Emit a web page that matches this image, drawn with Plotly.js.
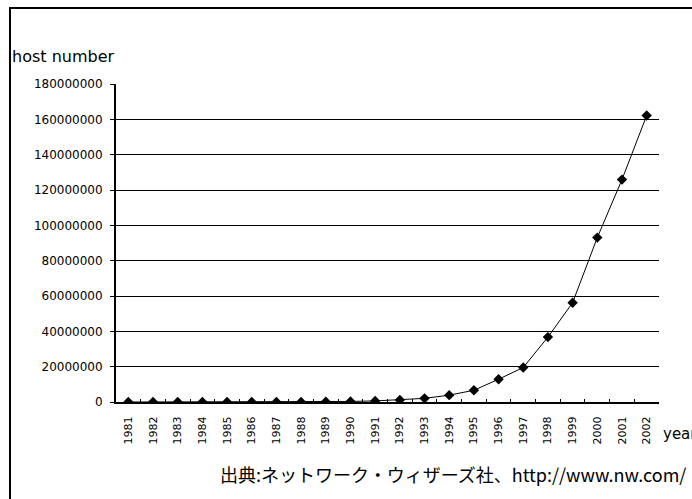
<!DOCTYPE html>
<html>
<head>
<meta charset="utf-8">
<script src="https://cdn.plot.ly/plotly-2.35.2.min.js"></script>
<style>
html,body{margin:0;padding:0;background:#fff;}
#wrap{position:relative;width:692px;height:499px;overflow:hidden;}
#chart{position:absolute;left:0;top:0;width:692px;height:499px;}
#frame{position:absolute;left:9px;top:7px;width:800px;height:700px;border-left:2px solid #000;border-top:2px solid #000;pointer-events:none;}
</style>
</head>
<body>
<div id="wrap"><div id="chart"></div><div id="frame"></div></div>
<script>
const years = ["1981","1982","1983","1984","1985","1986","1987","1988","1989","1990","1991",
  "1992","1993","1994","1995","1996","1997","1998","1999","2000","2001","2002"];
const hosts = [213, 235, 562, 1024, 1961, 5089, 28174, 56000, 159000, 313000, 617000,
  1136000, 2056000, 3864000, 6642000, 12881000, 19540000, 36739000, 56218000, 93047785, 125888197, 162128493];
const yTicks = [0, 20000000, 40000000, 60000000, 80000000, 100000000, 120000000, 140000000, 160000000, 180000000];
const gridVals = [20000000, 40000000, 60000000, 80000000, 100000000, 120000000, 140000000, 160000000];
const yTitle = "host number";
const xTitle = "year";
const source = "出典:ネットワーク・ウィザーズ社、http://www.nw.com/";

const trace = {
  x: years, y: hosts, type: 'scatter', mode: 'lines+markers',
  line: {color: '#000', width: 1},
  marker: {symbol: 'diamond', size: 8, color: '#000'},
  hoverinfo: 'skip'
};
const gridTrace = {x: [years[0]], y: [0], yaxis: 'y2', type: 'scatter', mode: 'none', hoverinfo: 'skip', showlegend: false};

const layout = {
  width: 692, height: 499,
  margin: {l: 116, r: 33, t: 84, b: 97},
  paper_bgcolor: '#fff', plot_bgcolor: '#fff',
  showlegend: false,
  font: {family: 'DejaVu Sans', color: '#000'},
  xaxis: {
    type: 'category', range: [-0.5, 21.5],
    showline: true, linecolor: '#000', linewidth: 2,
    showgrid: false, zeroline: false,
    ticks: 'inside', ticklen: 3, tickcolor: '#000', tickwidth: 1, tickson: 'boundaries',
    tickangle: -90, tickfont: {family: 'DejaVu Sans', size: 11, color: '#000'},
    ticklabelstandoff: 8
  },
  yaxis: {
    range: [0, 180000000], tickvals: yTicks, ticktext: yTicks.map(v => String(v)),
    showline: true, linecolor: '#000', linewidth: 2,
    showgrid: false, zeroline: false,
    ticks: 'outside', ticklen: 4, tickcolor: '#000', tickwidth: 1,
    tickfont: {family: 'DejaVu Sans', size: 12, color: '#000'},
    ticklabelstandoff: 5
  },
  yaxis2: {
    overlaying: 'y', range: [0, 180000000], tickvals: gridVals,
    showgrid: true, gridcolor: '#000', gridwidth: 1,
    showticklabels: false, ticks: '', zeroline: false, showline: false
  },
  annotations: [
    {text: yTitle, xref: 'paper', yref: 'paper', x: -0.196, y: 1.085, xanchor: 'left', yanchor: 'middle',
     showarrow: false, font: {family: 'DejaVu Sans', size: 16, color: '#000'}},
    {text: xTitle, xref: 'paper', yref: 'paper', x: 1.003, y: -0.1, xanchor: 'left', yanchor: 'middle',
     showarrow: false, font: {family: 'DejaVu Sans', size: 15, color: '#000'}},
    {text: source, xref: 'paper', yref: 'paper', x: 1.054, y: -0.226, xanchor: 'right', yanchor: 'middle',
     showarrow: false, font: {family: 'Noto Sans CJK JP', size: 18, color: '#000'}}
  ]
};
Plotly.newPlot('chart', [gridTrace, trace], layout, {staticPlot: true, displayModeBar: false});
</script>
</body>
</html>
